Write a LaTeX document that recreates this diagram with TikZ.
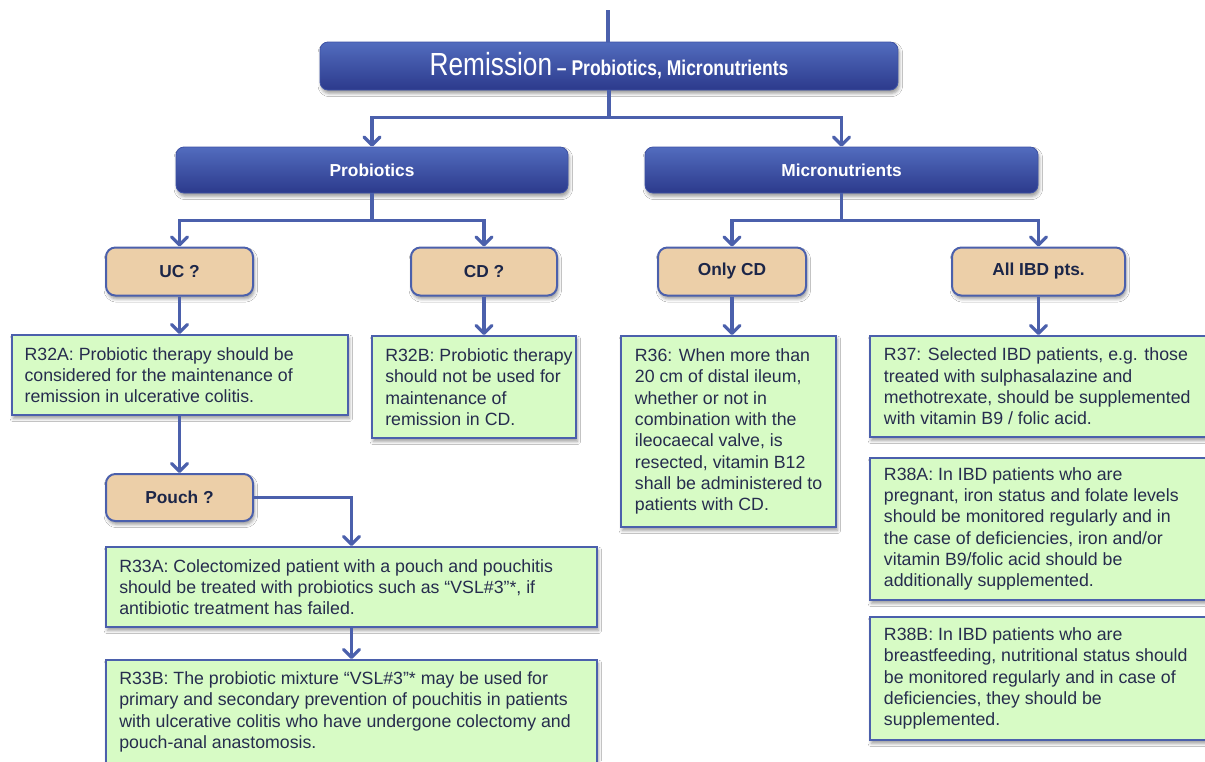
\documentclass[tikz,border=0pt]{standalone}
\usepackage{fontspec}
\setmainfont{Liberation Sans}
\newfontfamily\narrowfont{Liberation Sans}[FakeStretch=0.82]
\usetikzlibrary{arrows.meta,shadows.blur,calc}
\definecolor{linec}{RGB}{75,96,172}
\definecolor{bluetop}{RGB}{82,108,190}
\definecolor{bluebot}{RGB}{44,58,140}
\definecolor{blueedge}{RGB}{62,82,165}
\definecolor{tanfill}{RGB}{236,207,168}
\definecolor{greenfill}{RGB}{215,251,197}
\definecolor{txtc}{RGB}{38,44,78}
\definecolor{labc}{RGB}{28,38,72}
\tikzset{
  shad/.style={blur shadow={shadow xshift=1pt, shadow yshift=-2.5pt, shadow opacity=40, shadow blur radius=2.5pt}},
  bluebox/.style={shad, rectangle, rounded corners=6pt, top color=bluetop, bottom color=bluebot, draw=blueedge, line width=0.6pt, text=white, font=\fontsize{13}{15}\selectfont\bfseries, inner sep=0pt},
  tanbox/.style={shad, rectangle, rounded corners=7pt, fill=tanfill, draw=linec, line width=1.5pt, text=labc, font=\fontsize{13}{15}\selectfont\bfseries, inner sep=0pt},
  gbox/.style={shad, rectangle, fill=greenfill, draw=linec, line width=1.5pt, inner sep=0pt},
  txt/.style={anchor=west, align=left, inner sep=0pt, text=txtc, font=\fontsize{13.3}{16}\selectfont},
  line/.style={draw=linec, line width=2.4pt},
  arr/.style={line, -{Straight Barb[length=6pt,width=12pt,line cap=round,line join=round]}},
}
\begin{document}
\begin{tikzpicture}[x=0.75pt,y=-0.75pt]
\useasboundingbox (0,0) rectangle (1205,761);
\clip (0,0) rectangle (1205,761);
\fill[white] (0,0) rectangle (1205,761);

% top level
\node[bluebox, minimum width=433.5pt, minimum height=36pt] (rem) at (609,66)
  {\mdseries{\narrowfont\fontsize{24}{28}\selectfont Remission} {\narrowfont\bfseries\fontsize{16}{18}\selectfont – Probiotics, Micronutrients}};
\node[bluebox, minimum width=294pt, minimum height=34.5pt] (prob) at (372,170) {Probiotics};
\node[bluebox, minimum width=294.75pt, minimum height=34.5pt] (micro) at (841.5,170) {Micronutrients};

% question boxes
\node[tanbox, minimum width=110.25pt, minimum height=36pt] (uc) at (179.5,271.5) {UC ?};
\node[tanbox, minimum width=109.5pt, minimum height=36pt] (cdq) at (484,271.5) {CD ?};
\node[tanbox, minimum width=111pt, minimum height=36pt] (onlycd) at (732,271.5) {Only CD};
\node[tanbox, minimum width=129.75pt, minimum height=36pt] (allibd) at (1038.5,271.5) {All IBD pts.};
\node[tanbox, minimum width=110.25pt, minimum height=35.25pt] (pouch) at (179.5,497.5) {Pouch ?};

% recommendation boxes
\node[gbox, minimum width=252pt, minimum height=60pt] (r32a) at (180,375) {};
\node[txt] (r32a-t) at ([xshift=10pt]r32a.west) {R32A: Probiotic therapy should be\\considered for the maintenance of\\remission in ulcerative colitis.};

\node[gbox, minimum width=153pt, minimum height=76.5pt] (r32b) at (474,387) {};
\node[txt] (r32b-t) at ([xshift=10.5pt]r32b.west) {R32B: Probiotic therapy\\should not be used for\\maintenance of\\remission in CD.};

\node[gbox, minimum width=161.25pt, minimum height=143.25pt] (r36) at (728.5,431.5) {};
\node[txt] (r36-t) at ([xshift=11pt]r36.west) {R36: When more than\\20 cm of distal ileum,\\whether or not in\\combination with the\\ileocaecal valve, is\\resected, vitamin B12\\shall be administered to\\patients with CD.};

\node[gbox, minimum width=258.75pt, minimum height=75.75pt] (r37) at (1042.5,386.5) {};
\node[txt] (r37-t) at ([xshift=11pt]r37.west) {R37: Selected IBD patients, e.g. those\\treated with sulphasalazine and\\methotrexate, should be supplemented\\with vitamin B9 / folic acid.};

\node[gbox, minimum width=258.75pt, minimum height=106.5pt] (r38a) at (1042.5,529) {};
\node[txt] (r38a-t) at ([xshift=11pt]r38a.west) {R38A: In IBD patients who are\\pregnant, iron status and folate levels\\should be monitored regularly and in\\the case of deficiencies, iron and/or\\vitamin B9/folic acid should be\\additionally supplemented.};

\node[gbox, minimum width=258.75pt, minimum height=92.25pt] (r38b) at (1042.5,678.5) {};
\node[txt] (r38b-t) at ([xshift=11pt]r38b.west) {R38B: In IBD patients who are\\breastfeeding, nutritional status should\\be monitored regularly and in case of\\deficiencies, they should be\\supplemented.};

\node[gbox, minimum width=368.25pt, minimum height=60pt] (r33a) at (351.5,587) {};
\node[txt] (r33a-t) at ([xshift=10.5pt]r33a.west) {R33A: Colectomized patient with a pouch and pouchitis\\should be treated with probiotics such as “VSL\#3”*, if\\antibiotic treatment has failed.};

\node[gbox, minimum width=368.25pt, minimum height=78pt] (r33b) at (351.5,712) {};
\node[txt] (r33b-t) at ([xshift=10.5pt]r33b.west) {R33B: The probiotic mixture “VSL\#3”* may be used for\\primary and secondary prevention of pouchitis in patients\\with ulcerative colitis who have undergone colectomy and\\pouch-anal anastomosis.};

% connectors
\coordinate (top) at (608,10);
\draw[line] (top) -- (top |- rem.north);
\draw[line] (rem.south) -- ++(0,27) coordinate (j1);
\draw[arr] (j1) -| (prob.north);
\draw[arr] (j1) -| (micro.north);
\draw[line] (prob.south) -- ++(0,27) coordinate (j2);
\draw[arr] (j2) -| (uc.north);
\draw[arr] (j2) -| (cdq.north);
\draw[line] (micro.south) -- ++(0,27) coordinate (j3);
\draw[arr] (j3) -| (onlycd.north);
\draw[arr] (j3) -| (allibd.north);
\draw[arr] (uc.south) -- (uc.south |- r32a.north);
\draw[arr] (cdq.south) -- (cdq.south |- r32b.north);
\draw[arr] (onlycd.south) -- (onlycd.south |- r36.north);
\draw[arr] (allibd.south) -- (allibd.south |- r37.north);
\draw[arr] (pouch.north |- r32a.south) -- (pouch.north);
\draw[arr] (pouch.east) -| (r33a.north);
\draw[arr] (r33a.south) -- (r33b.north);
\end{tikzpicture}
\end{document}
